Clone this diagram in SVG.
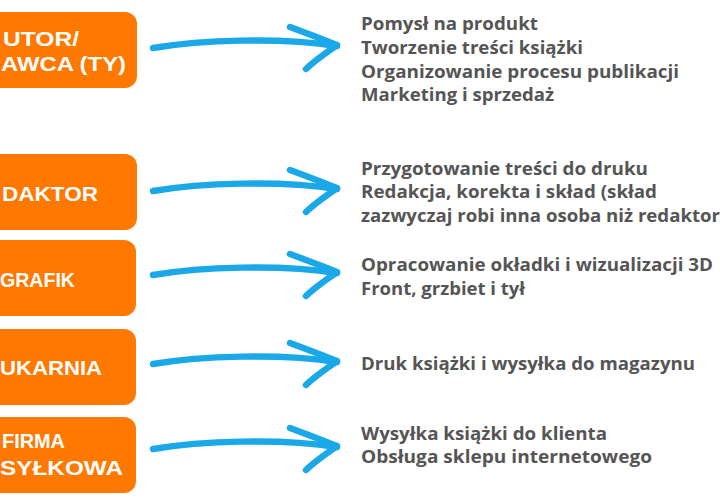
<svg xmlns="http://www.w3.org/2000/svg" width="720" height="500" viewBox="0 0 720 500">
  <style>
    .box { fill: #FF7800; }
    .lbl { fill: #ffffff; font-family: "Liberation Sans", Arial, sans-serif; font-weight: 700; font-size: 21px; }
    .txt { fill: #555555; font-family: "Open Sans", "Liberation Sans", sans-serif; font-weight: 700; font-size: 17px; }
    .arr { fill: none; stroke: #1AA8E8; stroke-width: 6.5; stroke-linecap: round; stroke-linejoin: round; }
  </style>
  <rect x="0" y="0" width="720" height="500" fill="#ffffff"/>

  <g id="node-autor">
    <rect class="box" x="-20" y="12" width="157" height="76" rx="12"/>
    <text class="lbl" x="3" y="46" textLength="76" lengthAdjust="spacingAndGlyphs">UTOR/</text>
    <text class="lbl" x="1" y="71" textLength="125" lengthAdjust="spacingAndGlyphs">AWCA (TY)</text>
  </g>
  <g id="node-redaktor">
    <rect class="box" x="-20" y="154" width="157" height="76" rx="12"/>
    <text class="lbl" x="2" y="201" textLength="96" lengthAdjust="spacingAndGlyphs">DAKTOR</text>
  </g>
  <g id="node-grafik">
    <rect class="box" x="-20" y="240" width="156" height="76" rx="12"/>
    <text class="lbl" x="0" y="287" textLength="75" lengthAdjust="spacingAndGlyphs">GRAFIK</text>
  </g>
  <g id="node-drukarnia">
    <rect class="box" x="-20" y="329" width="156" height="76" rx="12"/>
    <text class="lbl" x="0" y="375" textLength="102" lengthAdjust="spacingAndGlyphs">UKARNIA</text>
  </g>
  <g id="node-wysylkowa">
    <rect class="box" x="-20" y="417" width="156" height="76" rx="12"/>
    <text class="lbl" x="2" y="448" textLength="63" lengthAdjust="spacingAndGlyphs">FIRMA</text>
    <text class="lbl" x="0" y="475" textLength="123" lengthAdjust="spacingAndGlyphs">SYŁKOWA</text>
  </g>

  <g id="connectors">
    <g transform="translate(0,0)">
      <path class="arr" d="M153,48 C200,40 280,37 337,46"/>
      <path class="arr" d="M290,27 C306,33 322,39 337,45 C326,53 315,60 306,69"/>
    </g>
    <g transform="translate(0,143)">
      <path class="arr" d="M153,48 C200,40 280,37 337,46"/>
      <path class="arr" d="M290,27 C306,33 322,39 337,45 C326,53 315,60 306,69"/>
    </g>
    <g transform="translate(0,227)">
      <path class="arr" d="M153,48 C200,40 280,37 337,46"/>
      <path class="arr" d="M290,27 C306,33 322,39 337,45 C326,53 315,60 306,69"/>
    </g>
    <g transform="translate(0,316)">
      <path class="arr" d="M153,48 C200,40 280,37 337,46"/>
      <path class="arr" d="M290,27 C306,33 322,39 337,45 C326,53 315,60 306,69"/>
    </g>
    <g transform="translate(0,401)">
      <path class="arr" d="M153,48 C200,40 280,37 337,46"/>
      <path class="arr" d="M290,27 C306,33 322,39 337,45 C326,53 315,60 306,69"/>
    </g>
  </g>

  <g id="desc-autor">
    <text class="txt" x="361" y="30" textLength="177" lengthAdjust="spacingAndGlyphs">Pomysł na produkt</text>
    <text class="txt" x="361" y="54" textLength="222" lengthAdjust="spacingAndGlyphs">Tworzenie treści książki</text>
    <text class="txt" x="361" y="78" textLength="318" lengthAdjust="spacingAndGlyphs">Organizowanie procesu publikacji</text>
    <text class="txt" x="361" y="101" textLength="193" lengthAdjust="spacingAndGlyphs">Marketing i sprzedaż</text>
  </g>
  <g id="desc-redaktor">
    <text class="txt" x="361" y="175" textLength="287" lengthAdjust="spacingAndGlyphs">Przygotowanie treści do druku</text>
    <text class="txt" x="361" y="198" textLength="296" lengthAdjust="spacingAndGlyphs">Redakcja, korekta i skład (skład</text>
    <text class="txt" x="361" y="222" textLength="359" lengthAdjust="spacingAndGlyphs">zazwyczaj robi inna osoba niż redaktor</text>
  </g>
  <g id="desc-grafik">
    <text class="txt" x="361" y="271" textLength="352" lengthAdjust="spacingAndGlyphs">Opracowanie okładki i wizualizacji 3D</text>
    <text class="txt" x="361" y="295" textLength="164" lengthAdjust="spacingAndGlyphs">Front, grzbiet i tył</text>
  </g>
  <g id="desc-drukarnia">
    <text class="txt" x="361" y="370" textLength="334" lengthAdjust="spacingAndGlyphs">Druk książki i wysyłka do magazynu</text>
  </g>
  <g id="desc-wysylkowa">
    <text class="txt" x="361" y="440" textLength="246" lengthAdjust="spacingAndGlyphs">Wysyłka książki do klienta</text>
    <text class="txt" x="361" y="463" textLength="291" lengthAdjust="spacingAndGlyphs">Obsługa sklepu internetowego</text>
  </g>
</svg>
